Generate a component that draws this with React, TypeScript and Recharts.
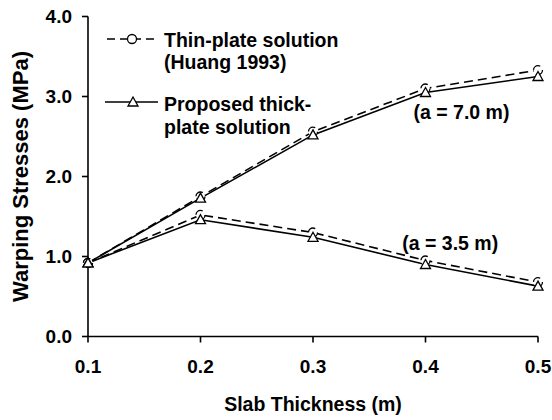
import React from "react";
import {
  LineChart,
  Line,
  XAxis,
  YAxis,
  Legend,
  ReferenceDot,
} from "recharts";

// slab thickness (m)
const thickness = [0.1, 0.2, 0.3, 0.4, 0.5];
// warping stresses (MPa), a = 7.0 m
const thinA70 = [0.92, 1.75, 2.56, 3.1, 3.33];
const thickA70 = [0.92, 1.73, 2.52, 3.05, 3.25];
// warping stresses (MPa), a = 3.5 m
const thinA35 = [0.92, 1.52, 1.3, 0.95, 0.68];
const thickA35 = [0.92, 1.46, 1.24, 0.9, 0.63];
const yTicks = [0, 1, 2, 3, 4];

const data = thickness.map((x, i) => ({
  x,
  thinA70: thinA70[i],
  thickA70: thickA70[i],
  thinA35: thinA35[i],
  thickA35: thickA35[i],
}));

const FONT = '"Liberation Sans", Arial, sans-serif';
const textStyle = { fontFamily: FONT, fontWeight: 700, fill: "#000" };

const circleDot = { r: 4.5, fill: "#fff", stroke: "#000", strokeWidth: 1.3 };

const TriangleDot = (props: any) => {
  const { cx, cy, index } = props;
  if (cx == null || cy == null) return null;
  const s = 5;
  return (
    <path
      key={`tri-${index}`}
      d={`M${cx},${cy - s} L${cx + s},${cy + s * 0.8} L${cx - s},${cy + s * 0.8} Z`}
      fill="#fff"
      stroke="#000"
      strokeWidth={1.3}
    />
  );
};

const LegendBox = () => (
  <svg width={552} height={150} style={{ display: "block" }}>
    <line x1={107} x2={157} y1={39} y2={39} stroke="#000" strokeWidth={1.6} strokeDasharray="8 5" />
    <circle cx={132} cy={39} r={4.5} fill="#fff" stroke="#000" strokeWidth={1.3} />
    <text x={164} y={40} dominantBaseline="central" fontSize={19.5} style={textStyle}>
      Thin-plate solution
    </text>
    <text x={164} y={62} dominantBaseline="central" fontSize={19.5} style={textStyle}>
      (Huang 1993)
    </text>
    <line x1={105} x2={158} y1={102} y2={102} stroke="#000" strokeWidth={1.6} />
    <path d="M133,97 L138,106 L128,106 Z" fill="#fff" stroke="#000" strokeWidth={1.3} />
    <text x={164} y={104} dominantBaseline="central" fontSize={19.5} style={textStyle}>
      Proposed thick-
    </text>
    <text x={164} y={127} dominantBaseline="central" fontSize={19.5} style={textStyle}>
      plate solution
    </text>
  </svg>
);

export default function App() {
  return (
    <div style={{ position: "absolute", left: 0, top: 0, width: 552, height: 420, background: "#fff" }}>
      <LineChart width={552} height={420} data={data} margin={{ top: 16.5, right: 14, bottom: 9.5, left: 0 }}>
        <XAxis
          type="number"
          dataKey="x"
          domain={[0.1, 0.5]}
          ticks={thickness}
          tickFormatter={(v: number) => v.toFixed(1)}
          height={74}
          tickSize={6}
          tickMargin={17}
          stroke="#000"
          strokeWidth={1.6}
          tick={{ ...textStyle, fontSize: 19 }}
          label={{
            value: "Slab Thickness (m)",
            position: "insideBottom",
            offset: 0,
            style: { ...textStyle, fontSize: 19.5 },
          }}
        />
        <XAxis
          xAxisId="top"
          orientation="top"
          type="number"
          dataKey="x"
          domain={[0.1, 0.5]}
          ticks={thickness}
          tick={false}
          tickLine={false}
          height={0}
          stroke="#000"
          strokeWidth={1.6}
        />
        <YAxis
          type="number"
          domain={[0, 4]}
          ticks={yTicks}
          tickFormatter={(v: number) => v.toFixed(1)}
          width={88}
          tickSize={6}
          tickMargin={10}
          stroke="#000"
          strokeWidth={1.6}
          tick={{ ...textStyle, fontSize: 19 }}
          label={{
            value: "Warping Stresses (MPa)",
            angle: -90,
            position: "insideLeft",
            offset: 20,
            style: { ...textStyle, fontSize: 22, textAnchor: "middle" },
          }}
        />
        <YAxis
          yAxisId="right"
          orientation="right"
          type="number"
          domain={[0, 4]}
          ticks={yTicks}
          tick={false}
          tickLine={false}
          width={0}
          stroke="#000"
          strokeWidth={1.6}
        />
        <Legend
          layout="horizontal"
          verticalAlign="middle"
          align="center"
          content={() => <LegendBox />}
          wrapperStyle={{ left: 0, top: 0, width: 552, pointerEvents: "none" }}
        />
        <Line
          type="linear"
          dataKey="thinA70"
          stroke="#000"
          strokeWidth={1.6}
          strokeDasharray="9 5"
          dot={circleDot}
          isAnimationActive={false}
        />
        <Line
          type="linear"
          dataKey="thinA35"
          stroke="#000"
          strokeWidth={1.6}
          strokeDasharray="9 5"
          dot={circleDot}
          isAnimationActive={false}
        />
        <Line
          type="linear"
          dataKey="thickA70"
          stroke="#000"
          strokeWidth={1.6}
          dot={<TriangleDot />}
          isAnimationActive={false}
        />
        <Line
          type="linear"
          dataKey="thickA35"
          stroke="#000"
          strokeWidth={1.6}
          dot={<TriangleDot />}
          isAnimationActive={false}
        />
        <ReferenceDot
          x={0.432}
          y={2.81}
          r={0}
          ifOverflow="visible"
          label={{ value: "(a = 7.0 m)", position: "center", style: { ...textStyle, fontSize: 19.5 } }}
        />
        <ReferenceDot
          x={0.422}
          y={1.17}
          r={0}
          ifOverflow="visible"
          label={{ value: "(a = 3.5 m)", position: "center", style: { ...textStyle, fontSize: 19.5 } }}
        />
      </LineChart>
    </div>
  );
}
